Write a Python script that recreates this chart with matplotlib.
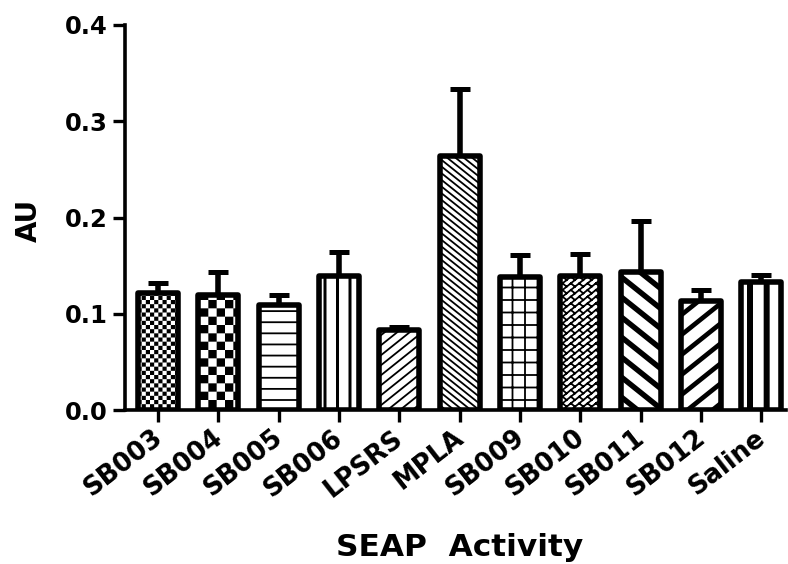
import warnings
warnings.filterwarnings("ignore")
import numpy as np
import matplotlib
matplotlib.use("Agg")
import matplotlib.pyplot as plt
import matplotlib.hatch as mhatch
from matplotlib.path import Path
from matplotlib.transforms import ScaledTranslation

# ---------------- data ----------------
categories = ["SB003", "SB004", "SB005", "SB006", "LPSRS", "MPLA",
              "SB009", "SB010", "SB011", "SB012", "Saline"]
values = [0.122, 0.120, 0.109, 0.139, 0.083, 0.264,
          0.138, 0.139, 0.143, 0.113, 0.133]
errors_upper = [0.010, 0.023, 0.011, 0.025, 0.003, 0.069,
                0.023, 0.023, 0.053, 0.012, 0.007]
yticks = [0.0, 0.1, 0.2, 0.3, 0.4]
ytick_labels = ["0.0", "0.1", "0.2", "0.3", "0.4"]
x_label = "SEAP  Activity"
y_label = "AU"

# ---------------- custom hatch patterns ----------------
DPI = 100
HATCH_LW_PT = 1.3
SW = HATCH_LW_PT / 72.0          # stroke width in tile units (tile = 1 inch)
MV, LN, CL = Path.MOVETO, Path.LINETO, Path.CLOSEPOLY


def segs(lines):
    v, c = [], []
    for (x0, y0, x1, y1) in lines:
        v += [(x0, y0), (x1, y1)]
        c += [MV, LN]
    return v, c


def polys(plist):
    v, c = [], []
    for p in plist:
        v += list(p) + [p[0]]
        c += [MV] + [LN] * (len(p) - 1) + [CL]
    return v, c


def join(*parts):
    v, c = [], []
    for pv, pc in parts:
        v += pv
        c += pc
    return v, c


def checker(n):
    s = 0.5 / n - SW
    pl = []
    for i in range(-1, n + 2):
        for j in range(-1, n + 2):
            for (ox, oy) in ((0.25, 0.25), (0.75, 0.75)):
                cx, cy = (i + ox) / n, (j + oy) / n
                pl.append([(cx - s / 2, cy - s / 2), (cx + s / 2, cy - s / 2),
                           (cx + s / 2, cy + s / 2), (cx - s / 2, cy + s / 2)])
    return polys(pl)


def hlines(n):
    return segs([(-0.1, k / n, 1.1, k / n) for k in range(0, n + 1)])


def vlines(n):
    return segs([(k / n, -0.1, k / n, 1.1) for k in range(0, n + 1)])


def vstripes(n, w):
    w = max(w - SW, 0.002)
    return polys([[(k / n - w / 2, -0.1), (k / n + w / 2, -0.1),
                   (k / n + w / 2, 1.1), (k / n - w / 2, 1.1)]
                  for k in range(0, n + 1)])


def slines(slope, d):
    out = []
    for k in range(int(-2.5 / d), int(3.5 / d) + 1):
        c = k * d
        out.append((-0.5, -0.5 * slope + c, 1.5, 1.5 * slope + c))
    return segs(out)


def sstripes(slope, d, t):
    t = max(t - SW, 0.002)
    pl = []
    for k in range(int(-2.5 / d), int(3.5 / d) + 1):
        c = k * d
        pl.append([(-0.5, -0.5 * slope + c - t / 2), (1.5, 1.5 * slope + c - t / 2),
                   (1.5, 1.5 * slope + c + t / 2), (-0.5, -0.5 * slope + c + t / 2)])
    return polys(pl)


def bricks():
    # brick rows along slope 0.8, row spacing 1/15; staggered joints
    rows = slines(0.8, 1 / 15.0)
    joints = []
    for i in range(-3, 16):
        for k in range(-3, 19):
            x0, y0 = i / 12.0, k / 15.0
            joints.append((x0, y0, x0 - 1 / 24.0, y0 + 1 / 30.0))
    return join(rows, segs(joints))


PATTERNS = {
    "a": lambda: checker(12),                       # SB003 fine checker
    "b": lambda: checker(6),                        # SB004 coarse checker
    "c": lambda: hlines(9),                         # SB005 horizontal
    "d": lambda: vstripes(8, 0.03),                 # SB006 vertical
    "e": lambda: slines(0.8, 0.1),                  # LPSRS /
    "f": lambda: slines(-0.8, 1 / 15.0),            # MPLA \
    "g": lambda: join(hlines(8), vlines(8)),        # SB009 grid
    "h": bricks,                                    # SB010 bricks
    "i": lambda: sstripes(-0.8, 0.2, 0.065),        # SB011 thick \
    "j": lambda: sstripes(0.8, 0.2, 0.055),         # SB012 thick /
    "k": lambda: vstripes(6, 0.06),                 # Saline thick vertical
}


def make_hatch_class(ch, builder):
    class _Custom(mhatch.HatchPatternBase):
        def __init__(self, hatch, density):
            if hatch is not None and ch in hatch:
                v, c = builder()
                self._v = np.asarray(v, float)
                self._c = np.asarray(c, dtype=Path.code_type)
                self.num_vertices = len(self._v)
            else:
                self.num_vertices = 0

        def set_vertices_and_codes(self, vertices, codes):
            vertices[:] = self._v
            codes[:] = self._c
    return _Custom


for ch, b in PATTERNS.items():
    mhatch._hatch_types.append(make_hatch_class(ch, b))

hatch_for_bar = list("abcdefghijk")

# ---------------- figure ----------------
plt.rcParams["font.family"] = ["DejaVu Sans"]
plt.rcParams["hatch.linewidth"] = HATCH_LW_PT
plt.rcParams["hatch.color"] = "black"

fig = plt.figure(figsize=(7.88, 5.64), dpi=DPI)
W, H = 788.0, 564.0
ax = fig.add_axes([125 / W, 1 - 410 / H, (786 - 125) / W, (410 - 25) / H])

x = np.arange(len(categories))
ax.errorbar(x, values, yerr=[np.zeros(len(values)), errors_upper],
            fmt="none", ecolor="black", elinewidth=4.0, capsize=7.2,
            capthick=3.6, zorder=1)
bars = ax.bar(x, values, width=0.66, color="white", edgecolor="black",
              linewidth=4.0, zorder=2)
for p, h in zip(bars.patches, hatch_for_bar):
    p.set_hatch(h)
    p.set_joinstyle("round")
    if hasattr(p, "set_hatch_linewidth"):
        p.set_hatch_linewidth(HATCH_LW_PT)

ax.set_xlim(-0.547, 10.41)
ax.set_ylim(0, 0.4)
ax.set_yticks(yticks)
ax.set_yticklabels(ytick_labels)
ax.set_xticks(x)
ax.set_xticklabels(categories, rotation=38, ha="right", va="top",
                   rotation_mode="anchor")

for s in ("top", "right"):
    ax.spines[s].set_visible(False)
for s in ("left", "bottom"):
    ax.spines[s].set_linewidth(2.6)
    ax.spines[s].set_capstyle("projecting")

ax.tick_params(axis="both", which="major", length=8.6, width=2.4,
               color="black")
ax.tick_params(axis="y", labelsize=17.5, pad=3.6)
ax.tick_params(axis="x", labelsize=18.5, pad=6.5)
for lbl in ax.get_yticklabels() + ax.get_xticklabels():
    lbl.set_fontweight("bold")
off = ScaledTranslation(-0.07, 0.06, fig.dpi_scale_trans)
for lbl in ax.get_xticklabels():
    lbl.set_transform(lbl.get_transform() + off)

ax.set_xlabel(x_label, fontsize=22.5, fontweight="bold")
ax.xaxis.label.set_va("baseline")
ax.xaxis.set_label_coords((460 - 125) / 661.0, (410 - 556) / 385.0)
ax.set_ylabel(y_label, fontsize=20, fontweight="bold")
ax.yaxis.label.set_va("center")
ax.yaxis.set_label_coords((29 - 125) / 661.0, (410 - 220) / 385.0)

fig.savefig("out.png", dpi=DPI)
